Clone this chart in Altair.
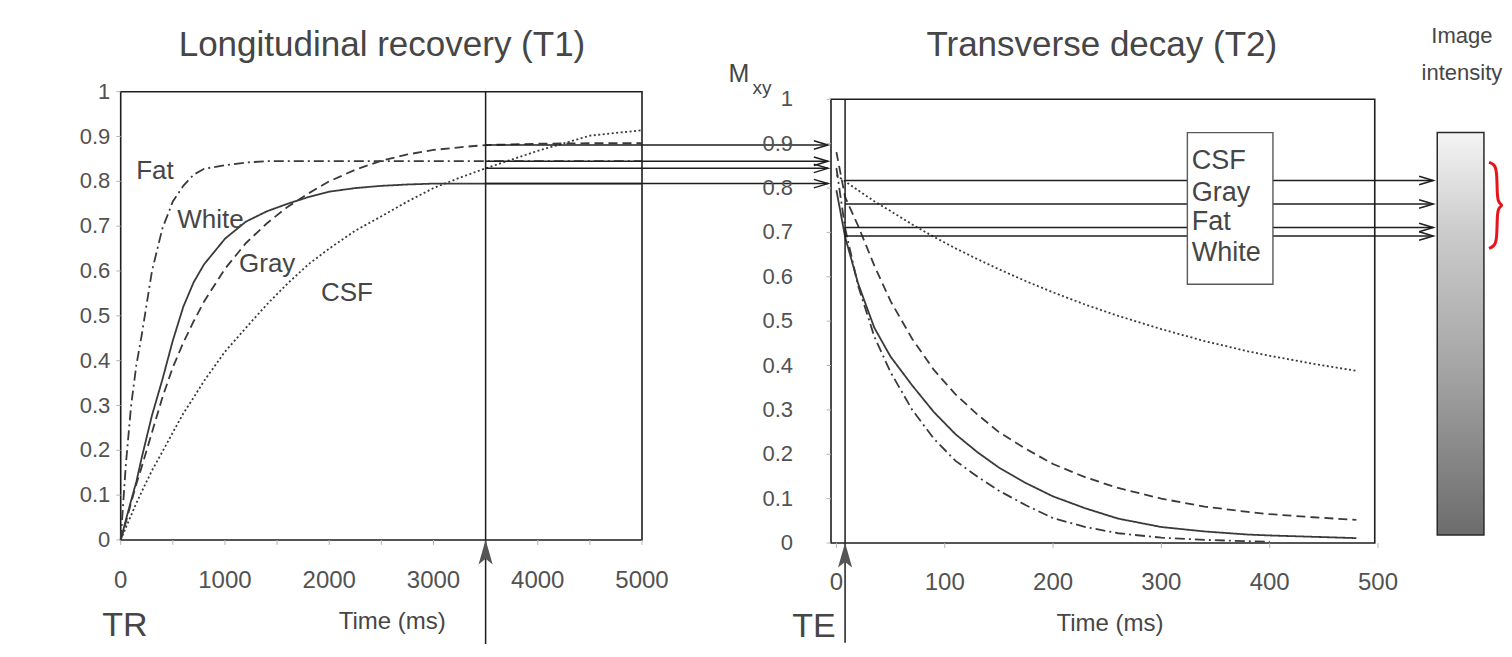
import altair as alt
import pandas as pd

# ---------------- values ----------------
TISSUES = ["White", "Gray", "Fat", "CSF"]
DASHES = [[1, 0], [9, 5], [10, 4, 2, 4], [2, 2.5]]

# Longitudinal recovery (T1): time (ms) and Mz
T1_TIME = [0, 50, 100, 150, 200, 300, 400, 500, 600, 700, 800, 1000, 1200, 1400,
           1600, 1800, 2000, 2250, 2500, 2750, 3000, 3250, 3500, 4000, 4500, 5000]
T1_WHITE = [0, 0.045, 0.088, 0.13, 0.182, 0.278, 0.358, 0.445, 0.52, 0.575, 0.615,
            0.672, 0.71, 0.733, 0.75, 0.765, 0.777, 0.785, 0.79, 0.793, 0.795, 0.795,
            0.795, 0.795, 0.795, 0.795]
T1_GRAY = [0, 0.04, 0.083, 0.125, 0.162, 0.24, 0.318, 0.385, 0.44, 0.488, 0.532,
           0.605, 0.662, 0.706, 0.743, 0.773, 0.8, 0.826, 0.846, 0.86, 0.87, 0.876,
           0.881, 0.884, 0.885, 0.885]
T1_FAT = [0, 0.17, 0.3, 0.39, 0.455, 0.6, 0.695, 0.755, 0.79, 0.815, 0.828,
          0.836, 0.842, 0.845, 0.845, 0.845, 0.845, 0.845, 0.845, 0.845, 0.845, 0.845,
          0.845, 0.845, 0.845, 0.845]
T1_CSF = [0, 0.028, 0.055, 0.082, 0.107, 0.155, 0.197, 0.24, 0.282, 0.318, 0.355,
          0.42, 0.473, 0.525, 0.572, 0.615, 0.65, 0.69, 0.722, 0.755, 0.785, 0.808,
          0.829, 0.868, 0.902, 0.914]

# Transverse decay (T2): time (ms) and Mxy
T2_TIME = [0, 8, 20, 35, 50, 70, 90, 110, 130, 150, 175, 200, 230, 260, 300, 340,
           380, 400, 440, 480]
T2_WHITE = [0.795, 0.69, 0.585, 0.485, 0.42, 0.355, 0.295, 0.245, 0.205, 0.17, 0.135,
            0.105, 0.078, 0.055, 0.036, 0.026, 0.019, 0.017, 0.014, 0.011]
T2_GRAY = [0.881, 0.78, 0.715, 0.625, 0.545, 0.46, 0.39, 0.335, 0.29, 0.25, 0.212,
           0.178, 0.148, 0.124, 0.1, 0.082, 0.07, 0.065, 0.058, 0.052]
T2_FAT = [0.845, 0.71, 0.58, 0.465, 0.385, 0.3, 0.235, 0.185, 0.15, 0.118, 0.085,
          0.056, 0.036, 0.022, 0.012, 0.007, 0.004, 0.003, None, None]
T2_CSF = [0.829, 0.815, 0.795, 0.77, 0.748, 0.718, 0.69, 0.664, 0.64, 0.617, 0.59,
          0.565, 0.537, 0.512, 0.482, 0.455, 0.432, 0.422, 0.404, 0.388]

TR_MS = 3500
TE_MS = 8
TR_ORDER = ["Gray", "Fat", "CSF", "White"]
TR_LEVELS = [0.881, 0.845, 0.829, 0.795]
TE_ORDER = ["CSF", "Gray", "Fat", "White"]
TE_LEVELS = [0.817, 0.764, 0.711, 0.692]

# axis ticks and their labels
T1_TICKS = [0, 500, 1000, 1500, 2000, 2500, 3000, 3500, 4000, 4500, 5000]
T1_LABELS = [0, 1000, 2000, 3000, 4000, 5000]
T2_TICKS = [0, 100, 200, 300, 400, 500]
Y_TICKS = [0, 0.1, 0.2, 0.3, 0.4, 0.5, 0.6, 0.7, 0.8, 0.9, 1]
Y_LABELS = ["0", "0.1", "0.2", "0.3", "0.4", "0.5", "0.6", "0.7", "0.8", "0.9", "1"]

# ---------------- layout / style ----------------
FONT = "Liberation Sans, Arial, sans-serif"
TEXT = "#464646"
TICKTXT = "#525252"
INK = "#3a3a3a"
FRAME = "#1e1e1e"
W, H = 1496, 636

xL = alt.Scale(domain=[0, 5000], range=[112.7, 634.0], nice=False, zero=False)
yL = alt.Scale(domain=[0, 1], range=[532.0, 83.7], nice=False, zero=False)
xR = alt.Scale(domain=[-5, 500], range=[823.0, 1370.0], nice=False, zero=False)
yR = alt.Scale(domain=[0, 1], range=[535.0, 91.3], nice=False, zero=False)

CHEVRON = "M -1 -0.3 L 0 0 L -1 0.3"
UP_ARROW = "M 0 -1 L 0.5 0.75 L 0 0.35 L -0.5 0.75 Z"

dash_scale = alt.Scale(domain=TISSUES, range=DASHES)


def long_df(times, series):
    rows = []
    for name, vals in zip(TISSUES, series):
        for t, v in zip(times, vals):
            if v is not None:
                rows.append({"t": t, "v": v, "tissue": name})
    return pd.DataFrame(rows)


t1_df = long_df(T1_TIME, [T1_WHITE, T1_GRAY, T1_FAT, T1_CSF])
t2_df = long_df(T2_TIME, [T2_WHITE, T2_GRAY, T2_FAT, T2_CSF])


def xy(xs, ys, xf="t", yf="v"):
    return dict(x=alt.X(f"{xf}:Q", scale=xs, axis=None), y=alt.Y(f"{yf}:Q", scale=ys, axis=None))


def texts(rows, xs, ys, size, align="center", color=TEXT):
    df = pd.DataFrame(rows)
    return alt.Chart(df).mark_text(fontSize=size, align=align, baseline="middle",
                                   color=color, font=FONT).encode(text="label:N", **xy(xs, ys))


def segs(df, xs, ys, color=FRAME, sw=1.5, horizontal=True):
    if horizontal:
        enc = dict(x=alt.X("t:Q", scale=xs, axis=None), x2="t2:Q", y=alt.Y("v:Q", scale=ys, axis=None))
    else:
        enc = dict(x=alt.X("t:Q", scale=xs, axis=None), y=alt.Y("v:Q", scale=ys, axis=None), y2="v2:Q")
    return alt.Chart(df).mark_rule(color=color, strokeWidth=sw).encode(**enc)


def box(t0, t1, v0, v1, xs, ys, stroke=FRAME, fill="white", fo=0.0, sw=1.6):
    df = pd.DataFrame([{"t": t0, "t2": t1, "v": v0, "v2": v1}])
    return alt.Chart(df).mark_rect(stroke=stroke, strokeWidth=sw, fill=fill, fillOpacity=fo).encode(
        x=alt.X("t:Q", scale=xs, axis=None), x2="t2:Q",
        y=alt.Y("v:Q", scale=ys, axis=None), y2="v2:Q")


def axes(xs, ys, xticks, xlabels, x_lab_v, x_tick_v, y_tick_t, y_lab_t):
    xt = pd.DataFrame({"t": xticks, "v": [0] * len(xticks), "v2": [x_tick_v] * len(xticks)})
    yt = pd.DataFrame({"t": [y_tick_t] * len(Y_TICKS), "t2": [xs.domain[0]] * len(Y_TICKS), "v": Y_TICKS})
    return alt.layer(
        segs(xt, xs, ys, color="#b5b5b5", sw=1, horizontal=False),
        segs(yt, xs, ys, color="#b5b5b5", sw=1, horizontal=True),
        texts({"label": [str(v) for v in xlabels], "t": xlabels, "v": [x_lab_v] * len(xlabels)},
              xs, ys, 24, color=TICKTXT),
        texts({"label": Y_LABELS, "t": [y_lab_t] * len(Y_TICKS), "v": Y_TICKS},
              xs, ys, 22, align="right", color=TICKTXT),
    )


def up_arrow(t, v, xs, ys):
    return alt.Chart(pd.DataFrame([{"t": t, "v": v}])).mark_point(
        shape=UP_ARROW, filled=True, color="#555555", size=800, opacity=1).encode(**xy(xs, ys))


def chevrons(df, xs, ys):
    return alt.Chart(df).mark_point(
        shape=CHEVRON, filled=False, color=FRAME, strokeWidth=1.5, size=800, opacity=1).encode(
        x=alt.X("t2:Q", scale=xs, axis=None), y=alt.Y("v:Q", scale=ys, axis=None))


# ---------------- left panel: T1 ----------------
left_frame = box(0, 5000, 0, 1, xL, yL)
left_axes = axes(xL, yL, T1_TICKS, T1_LABELS, -0.091, -0.011, -42, -100)

left_curves = alt.Chart(t1_df).mark_line(color=INK, strokeWidth=1.8).encode(
    strokeDash=alt.StrokeDash("tissue:N", scale=dash_scale, legend=None), **xy(xL, yL))

tr_rule = segs(pd.DataFrame([{"t": TR_MS, "v": -0.232, "v2": 1}]), xL, yL, horizontal=False)
tr_head = up_arrow(TR_MS, -0.031, xL, yL)

tr_arrows_df = pd.DataFrame({"t": [TR_MS] * 4, "t2": [6784] * 4, "v": TR_LEVELS, "tissue": TR_ORDER})
tr_arrows = segs(tr_arrows_df, xL, yL)
tr_heads = chevrons(tr_arrows_df, xL, yL)

curve_labels = texts({"label": ["Fat", "White", "Gray", "CSF"],
                      "t": [329, 860, 1405, 2170],
                      "v": [0.822, 0.7135, 0.615, 0.5507]}, xL, yL, 26)
left_title = texts({"label": ["Longitudinal recovery (T1)"], "t": [2506], "v": [1.104]}, xL, yL, 35)
left_xtitle = texts({"label": ["Time (ms)"], "t": [2604], "v": [-0.182]}, xL, yL, 24)
tr_text = texts({"label": ["TR"], "t": [41], "v": [-0.192]}, xL, yL, 34)

left = alt.layer(left_frame, left_axes, left_curves, tr_rule, tr_head, tr_arrows, tr_heads,
                 curve_labels, left_title, left_xtitle, tr_text)

# ---------------- right panel: T2 ----------------
right_frame = box(-5, 497, 0, 1, xR, yR)
right_axes = axes(xR, yR, T2_TICKS, T2_TICKS, -0.091, -0.011, -9, -40)

right_curves = alt.Chart(t2_df).mark_line(color=INK, strokeWidth=1.8).encode(
    strokeDash=alt.StrokeDash("tissue:N", scale=dash_scale, legend=None), **xy(xR, yR))

te_rule = segs(pd.DataFrame([{"t": TE_MS, "v": -0.225, "v2": 1}]), xR, yR, horizontal=False)
te_head = up_arrow(TE_MS, -0.0315, xR, yR)

BOX_T0, BOX_T1, BOX_V0, BOX_V1 = 324, 403, 0.583, 0.925
BAR_T0, BAR_T1, BAR_V0, BAR_V1 = 554.7, 597.8, 0.018, 0.925

te_seg1 = pd.DataFrame({"t": [TE_MS] * 4, "t2": [BOX_T0] * 4, "v": TE_LEVELS})
te_seg2 = pd.DataFrame({"t": [BOX_T1] * 4, "t2": [551] * 4, "v": TE_LEVELS})
te_lines = alt.layer(segs(te_seg1, xR, yR), segs(te_seg2, xR, yR))
te_heads = chevrons(te_seg2, xR, yR)

legend_box = box(BOX_T0, BOX_T1, BOX_V0, BOX_V1, xR, yR, stroke="#5a5a5a", fo=1.0, sw=1.4)
legend_text = texts({"label": TE_ORDER, "t": [328] * 4, "v": [0.862, 0.789, 0.723, 0.654]},
                    xR, yR, 27, align="left")

bar = alt.Chart(pd.DataFrame([{"t": BAR_T0, "t2": BAR_T1, "v": BAR_V0, "v2": BAR_V1}])).mark_rect(
    fill={"gradient": "linear", "x1": 0, "y1": 0, "x2": 0, "y2": 1,
          "stops": [{"offset": 0, "color": "#f4f4f4"}, {"offset": 0.25, "color": "#cbcbcb"},
                    {"offset": 0.6, "color": "#a3a3a3"}, {"offset": 1, "color": "#6c6c6c"}]},
    stroke="#2a2a2a", strokeWidth=1.5).encode(
    x=alt.X("t:Q", scale=xR, axis=None), x2="t2:Q", y=alt.Y("v:Q", scale=yR, axis=None), y2="v2:Q")

BRACE_T = [602.5, 607.1, 609.9, 609.9, 611.7, 615.4, 611.7, 609.9, 609.9, 607.1, 602.5]
BRACE_V = [0.858, 0.854, 0.840, 0.779, 0.766, 0.761, 0.757, 0.743, 0.682, 0.669, 0.664]
brace = alt.Chart(pd.DataFrame({"t": BRACE_T, "v": BRACE_V, "i": list(range(len(BRACE_T)))})).mark_line(
    color="#e8141c", strokeWidth=3, interpolate="basis").encode(
    order="i:Q", **xy(xR, yR))

right_title = texts({"label": ["Transverse decay (T2)"], "t": [245], "v": [1.122]}, xR, yR, 35)
right_xtitle = texts({"label": ["Time (ms)"], "t": [252.6], "v": [-0.182]}, xR, yR, 24)
te_text = texts({"label": ["TE"], "t": [-20.7], "v": [-0.19]}, xR, yR, 34)
m_text = texts({"label": ["M"], "t": [-90], "v": [1.058]}, xR, yR, 25)
m_sub = texts({"label": ["xy"], "t": [-68.7], "v": [1.025]}, xR, yR, 19)
intensity = texts({"label": ["Image", "intensity"], "t": [577.5, 577.5], "v": [1.142, 1.06]}, xR, yR, 22)

right = alt.layer(right_frame, right_axes, right_curves, te_rule, te_head, te_lines, te_heads,
                  legend_box, legend_text, bar, brace, right_title, right_xtitle, te_text,
                  m_text, m_sub, intensity)

chart = alt.layer(left, right).resolve_scale(x="independent", y="independent").properties(
    width=W, height=H, autosize=alt.AutoSizeParams(type="none"), padding=0,
    background="white",
).configure_view(stroke=None)

chart.save("out.html", embed_options={"renderer": "svg", "actions": False})
